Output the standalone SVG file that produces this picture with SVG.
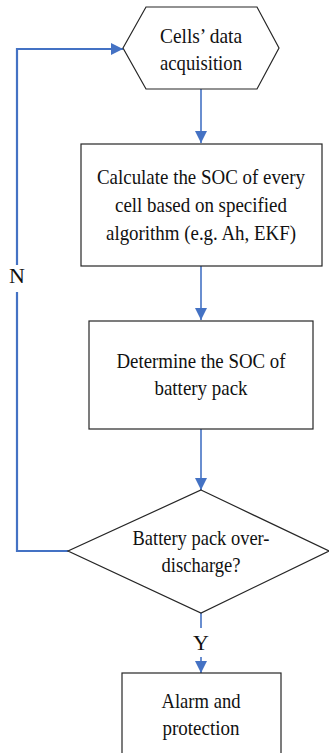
<svg xmlns="http://www.w3.org/2000/svg" width="329" height="753" viewBox="0 0 329 753">
<defs>
<style>
.shape{fill:#ffffff;stroke:#262626;stroke-width:1.2}
.lbl{font-family:'Liberation Serif', serif;font-size:22px;fill:#111111;text-anchor:middle}
.conn{fill:none;stroke:#4472C4;stroke-width:1.6}
.loop{fill:none;stroke:#4472C4;stroke-width:2.2}
</style>
<marker id="arr" markerUnits="userSpaceOnUse" markerWidth="12" markerHeight="12" viewBox="0 0 12 12" refX="12" refY="6" orient="auto">
<path d="M0,0 L12,6 L0,12 Z" fill="#4472C4"/>
</marker>
</defs>
<rect width="329" height="753" fill="#ffffff"/>
<g id="connectors">
<path class="conn" d="M201,89 V143" marker-end="url(#arr)"/>
<path class="conn" d="M201,266 V320" marker-end="url(#arr)"/>
<path class="conn" d="M201,429 V490" marker-end="url(#arr)"/>
<path class="conn" d="M201,613 V628"/>
<path class="conn" d="M201,657 V673" marker-end="url(#arr)"/>
<path class="loop" d="M68,551 H17 V49 H123" marker-end="url(#arr)"/>
</g>
<g id="label-N">
<rect x="8" y="265" width="18" height="27" fill="#ffffff"/>
<text class="lbl" x="17" y="283" font-family="Liberation Serif, serif">N</text>
</g>
<g id="label-Y">
<text class="lbl" x="201" y="650" font-family="Liberation Serif, serif">Y</text>
</g>
<g id="n1" font-family="Liberation Serif, serif">
<polygon class="shape" points="123,48 146,7 257,7 279,48 257,89 146,89"/>
<text class="lbl" x="201" y="43" textLength="82" lengthAdjust="spacingAndGlyphs">Cells’ data</text>
<text class="lbl" x="201" y="70" textLength="82" lengthAdjust="spacingAndGlyphs">acquisition</text>
</g>
<g id="n2">
<rect class="shape" x="81" y="144" width="241" height="122"/>
<text class="lbl" x="201" y="184" textLength="208" lengthAdjust="spacingAndGlyphs">Calculate the SOC of every</text>
<text class="lbl" x="201" y="212" textLength="172" lengthAdjust="spacingAndGlyphs">cell based on specified</text>
<text class="lbl" x="201" y="240" textLength="190" lengthAdjust="spacingAndGlyphs">algorithm (e.g. Ah, EKF)</text>
</g>
<g id="n3">
<rect class="shape" x="89" y="321" width="224" height="108"/>
<text class="lbl" x="201" y="368" textLength="169" lengthAdjust="spacingAndGlyphs">Determine the SOC of</text>
<text class="lbl" x="201" y="395" textLength="93" lengthAdjust="spacingAndGlyphs">battery pack</text>
</g>
<g id="n4">
<polygon class="shape" points="201,490 329,551 201,613 68,551"/>
<text class="lbl" x="201" y="545" textLength="137" lengthAdjust="spacingAndGlyphs">Battery pack over-</text>
<text class="lbl" x="201" y="572" textLength="79" lengthAdjust="spacingAndGlyphs">discharge?</text>
</g>
<g id="n5">
<rect class="shape" x="122" y="673" width="159" height="90"/>
<text class="lbl" x="201" y="708" textLength="79" lengthAdjust="spacingAndGlyphs">Alarm and</text>
<text class="lbl" x="201" y="735" textLength="77" lengthAdjust="spacingAndGlyphs">protection</text>
</g>
</svg>
